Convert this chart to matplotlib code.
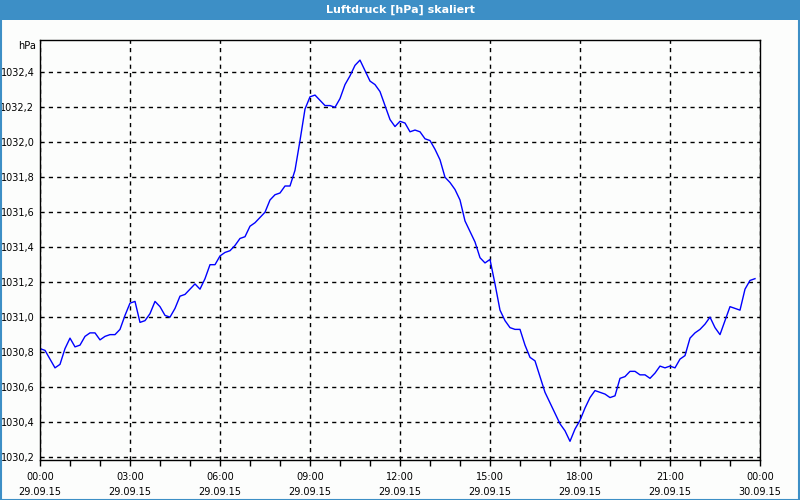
import numpy as np
import matplotlib.pyplot as plt
from matplotlib.patches import Rectangle
from matplotlib.ticker import FuncFormatter, MultipleLocator

# Luftdruck alle 10 Minuten, 29.09.15 00:00 bis 23:50
pressure = [
    1030.82, 1030.81, 1030.76, 1030.71, 1030.73, 1030.82, 1030.88, 1030.83, 1030.84, 1030.89,
    1030.91, 1030.91, 1030.87, 1030.89, 1030.90, 1030.90, 1030.93, 1031.01, 1031.08, 1031.09,
    1030.97, 1030.98, 1031.02, 1031.09, 1031.06, 1031.01, 1031.00, 1031.05, 1031.12, 1031.13,
    1031.16, 1031.19, 1031.16, 1031.22, 1031.30, 1031.30, 1031.35, 1031.37, 1031.38, 1031.41,
    1031.45, 1031.46, 1031.52, 1031.54, 1031.57, 1031.60, 1031.67, 1031.70, 1031.71, 1031.75,
    1031.75, 1031.84, 1032.01, 1032.19, 1032.26, 1032.27, 1032.24, 1032.21, 1032.21, 1032.20,
    1032.25, 1032.33, 1032.38, 1032.44, 1032.47, 1032.41, 1032.35, 1032.33, 1032.29, 1032.21,
    1032.13, 1032.09, 1032.12, 1032.11, 1032.06, 1032.07, 1032.06, 1032.02, 1032.01, 1031.96,
    1031.90, 1031.80, 1031.77, 1031.73, 1031.67, 1031.55, 1031.49, 1031.43, 1031.34, 1031.31,
    1031.33, 1031.19, 1031.04, 1030.98, 1030.94, 1030.93, 1030.93, 1030.84, 1030.77, 1030.75,
    1030.66, 1030.57, 1030.51, 1030.45, 1030.39, 1030.35, 1030.29, 1030.36, 1030.41, 1030.48,
    1030.54, 1030.58, 1030.57, 1030.56, 1030.54, 1030.55, 1030.65, 1030.66, 1030.69, 1030.69,
    1030.67, 1030.67, 1030.65, 1030.68, 1030.72, 1030.71, 1030.72, 1030.71, 1030.76, 1030.78,
    1030.88, 1030.91, 1030.93, 1030.96, 1031.00, 1030.94, 1030.90, 1030.98, 1031.06, 1031.05,
    1031.04, 1031.16, 1031.21, 1031.22,
]
hours = np.arange(len(pressure)) / 6.0

tick_hours = [0, 3, 6, 9, 12, 15, 18, 21, 24]
tick_labels = ["00:00\n29.09.15", "03:00\n29.09.15", "06:00\n29.09.15", "09:00\n29.09.15",
               "12:00\n29.09.15", "15:00\n29.09.15", "18:00\n29.09.15", "21:00\n29.09.15",
               "00:00\n30.09.15"]

bg = "#fcfdfc"
blue_bar = "#3d8fc6"

fig = plt.figure(figsize=(8, 5), dpi=100, facecolor=bg)
plt.rcParams["font.family"] = ["DejaVu Sans"]

# title bar + window border
fig.patches.append(Rectangle((0, 480 / 500), 1, 20 / 500, transform=fig.transFigure,
                             facecolor=blue_bar, edgecolor="none", zorder=0))
fig.patches.append(Rectangle((0.5 / 800, 0.5 / 500), 798.5 / 800, 499 / 500, transform=fig.transFigure,
                             facecolor="none", edgecolor=blue_bar, linewidth=1.5, zorder=0))
fig.text(0.5, 490 / 500, "Luftdruck [hPa] skaliert", color="white", fontsize=8,
         fontweight="bold", ha="center", va="center")

ax = fig.add_axes([40 / 800, 40 / 500, 720 / 800, 420 / 500])
ax.set_facecolor(bg)
ax.plot(hours, pressure, color="#0000ff", linewidth=1)

ax.set_xlim(0, 24)
ax.set_ylim(1030.183, 1032.585)

ax.set_xticks(tick_hours)
ax.set_xticklabels(tick_labels, fontsize=7, linespacing=1.55)
ax.xaxis.set_minor_locator(MultipleLocator(1))
ax.tick_params(axis="x", which="both", direction="out", length=4, width=1, pad=5, color="black")

ax.set_yticks(np.arange(1030.2, 1032.41, 0.2))
ax.yaxis.set_major_formatter(FuncFormatter(lambda v, p: f"{v:.1f}".replace(".", ",")))
ax.tick_params(axis="y", length=0, pad=4, labelsize=7)

ax.grid(True, which="major", color="black", linestyle=(0, (3, 3)), linewidth=1)
for s in ax.spines.values():
    s.set_color("black")
    s.set_linewidth(1)

fig.text(36 / 800, 1 - 46 / 500, "hPa", fontsize=7, ha="right", va="center")

fig.savefig("out.png", dpi=100, facecolor=bg)
